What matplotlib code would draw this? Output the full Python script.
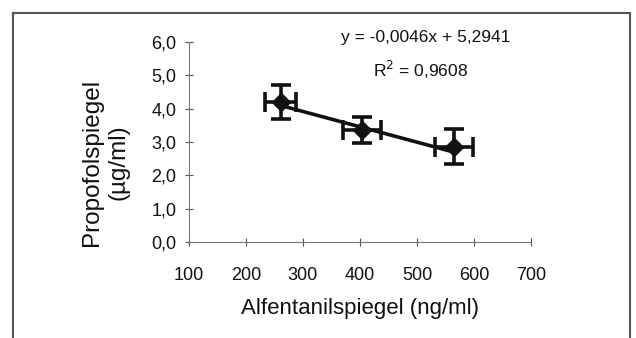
import matplotlib
matplotlib.use("Agg")
import matplotlib.pyplot as plt
from matplotlib.lines import Line2D
import numpy as np
from matplotlib import font_manager

names = {f.name for f in font_manager.fontManager.ttflist}
fam = "Liberation Sans Narrow" if "Liberation Sans Narrow" in names else "Liberation Sans"
plt.rcParams['font.family'] = [fam, 'DejaVu Sans']

# data
alfentanil = [261, 403, 565]
propofol = [4.21, 3.36, 2.86]
x_err = [27, 33, 33]
y_err = [0.51, 0.40, 0.53]
slope, intercept = -0.0046, 5.2941
r2 = 0.9608
xticks = [100, 200, 300, 400, 500, 600, 700]
yticks = [0, 1, 2, 3, 4, 5, 6]

fig = plt.figure(figsize=(6.36, 3.38), dpi=100)
ax = fig.add_axes([0.297, 0.284, 0.538, 0.592])

xs = np.array([min(alfentanil), max(alfentanil)])
ax.plot(xs, slope * xs + intercept, color='#111111', lw=2.6, zorder=2)
ax.errorbar(alfentanil, propofol, xerr=x_err, yerr=y_err, fmt='D', color='#111111',
            ms=9, elinewidth=2.6, capsize=7.5, capthick=2.6, zorder=3)

ax.set_xlim(100, 700)
ax.set_ylim(0, 6)
ax.set_xticks(xticks)
ax.set_yticks(yticks)
ax.set_xticklabels([str(t) for t in xticks])
ax.set_yticklabels([f"{t:.1f}".replace('.', ',') for t in yticks])
for s in ['top', 'right']:
    ax.spines[s].set_visible(False)
for s in ['left', 'bottom']:
    ax.spines[s].set_color('#777777')
    ax.spines[s].set_linewidth(0.8)
ax.tick_params(axis='both', direction='inout', length=6, width=0.8, color='#555555',
               labelsize=13, labelcolor='#111111')
ax.tick_params(axis='x', pad=15)
ax.tick_params(axis='y', pad=6)

ax.set_xlabel("Alfentanilspiegel (ng/ml)", fontsize=16, color='#111111', labelpad=10)
ax.set_ylabel("Propofolspiegel\n(µg/ml)", fontsize=17.5, color='#111111',
              linespacing=1.25)
ax.yaxis.set_label_coords(-0.245, 0.40)
ax.yaxis.label.set_verticalalignment('center')

fig.text(0.670, 0.888, "y = -0,0046x + 5,2941", ha='center', va='center',
         fontsize=12.5, color='#111111')
fig.text(0.661, 0.793, r"R$^{2}$ = 0,9608", ha='center', va='center',
         fontsize=12.5, color='#111111')

# outer frame
c = '#555555'
fig.add_artist(Line2D([13/636, 13/636], [0, 1-13/338], transform=fig.transFigure, color=c, lw=1.5))
fig.add_artist(Line2D([13/636, 630/636], [1-13/338, 1-13/338], transform=fig.transFigure, color=c, lw=1.5))
fig.add_artist(Line2D([630/636, 630/636], [0, 1-13/338], transform=fig.transFigure, color=c, lw=1.5))

fig.savefig("out.png", dpi=100)
